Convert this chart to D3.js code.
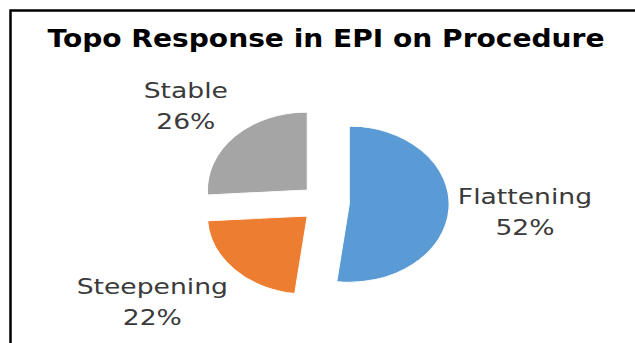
<!DOCTYPE html>
<html>
<head>
<meta charset="utf-8">
<script src="https://cdn.jsdelivr.net/npm/d3@7"></script>
<style>
  html, body { margin: 0; padding: 0; background: #fff; }
  svg { display: block; }
</style>
</head>
<body>
<svg id="chart" width="635" height="343"></svg>
<script>
// Topo response shares, clockwise from 12 o'clock
const categories = ["Flattening", "Steepening", "Stable"];
const shares = [52, 22, 26];
const sliceColors = ["#5B9BD5", "#ED7D31", "#A5A5A5"];
const titleText = "Topo Response in EPI on Procedure";

const W = 635, H = 343;
const svg = d3.select("#chart");

// frame
svg.append("rect")
  .attr("x", 10.5).attr("y", 10.5)
  .attr("width", W + 20).attr("height", H + 20)
  .attr("fill", "#fff")
  .attr("stroke", "#000")
  .attr("stroke-width", 2.5);

// title, widened horizontally
const title = svg.append("text")
  .attr("x", 326).attr("y", 47)
  .attr("text-anchor", "middle")
  .attr("font-family", "'DejaVu Sans', Verdana, sans-serif")
  .attr("font-weight", "bold")
  .attr("font-size", 24)
  .attr("fill", "#000")
  .text(titleText);
title.attr("textLength", title.node().getComputedTextLength() * 1.17)
     .attr("lengthAdjust", "spacingAndGlyphs");

// pie geometry (drawn on an ellipse: horizontal stretch sx)
const cx = 325, cy = 203, R = 78, sx = 1.28, explode = 19;
const data = categories.map((c, i) => ({ name: c, value: shares[i], color: sliceColors[i] }));
const total = d3.sum(shares);
const pie = d3.pie().sort(null).value(d => d.value);
const arc = d3.arc().innerRadius(0).outerRadius(R);
const arcs = pie(data);

const pieG = svg.append("g").attr("transform", `translate(${cx},${cy}) scale(${sx},1)`);
pieG.selectAll("path")
  .data(arcs)
  .join("path")
  .attr("transform", d => {
    const a = (d.startAngle + d.endAngle) / 2;
    return `translate(${Math.sin(a) * explode},${-Math.cos(a) * explode})`;
  })
  .attr("d", arc)
  .attr("fill", d => d.data.color)
  .attr("stroke", "#fff")
  .attr("stroke-width", 0.8);

// data labels: category + percentage, placed outside each slice
const labelR = 104, labelStretch = 1.267, lineGap = 31, halfH = 29;
const fmtPct = v => Math.round(v / total * 100) + "%";

arcs.forEach(d => {
  const a = (d.startAngle + d.endAngle) / 2;
  const ux = Math.sin(a), uy = -Math.cos(a);
  const px = cx + sx * ux * labelR;
  const py = cy + uy * labelR;

  const g = svg.append("g");
  const lines = [d.data.name, fmtPct(d.value)];
  const texts = lines.map((t, i) => {
    const el = g.append("text")
      .attr("text-anchor", "middle")
      .attr("font-family", "'DejaVu Sans', Verdana, sans-serif")
      .attr("font-size", 21)
      .attr("fill", "#3a3a3a")
      .attr("y", i * lineGap)
      .text(t);
    const w = el.node().getComputedTextLength() * labelStretch;
    el.attr("textLength", w).attr("lengthAdjust", "spacingAndGlyphs");
    return w;
  });
  const halfW = d3.max(texts) / 2;
  const m = Math.max(Math.abs(ux), Math.abs(uy));
  const bx = px + (ux / m) * halfW;
  const by = py + (uy / m) * halfH;
  // block centre -> first baseline
  g.attr("transform", `translate(${bx},${by - 7})`);
});
</script>
</body>
</html>
